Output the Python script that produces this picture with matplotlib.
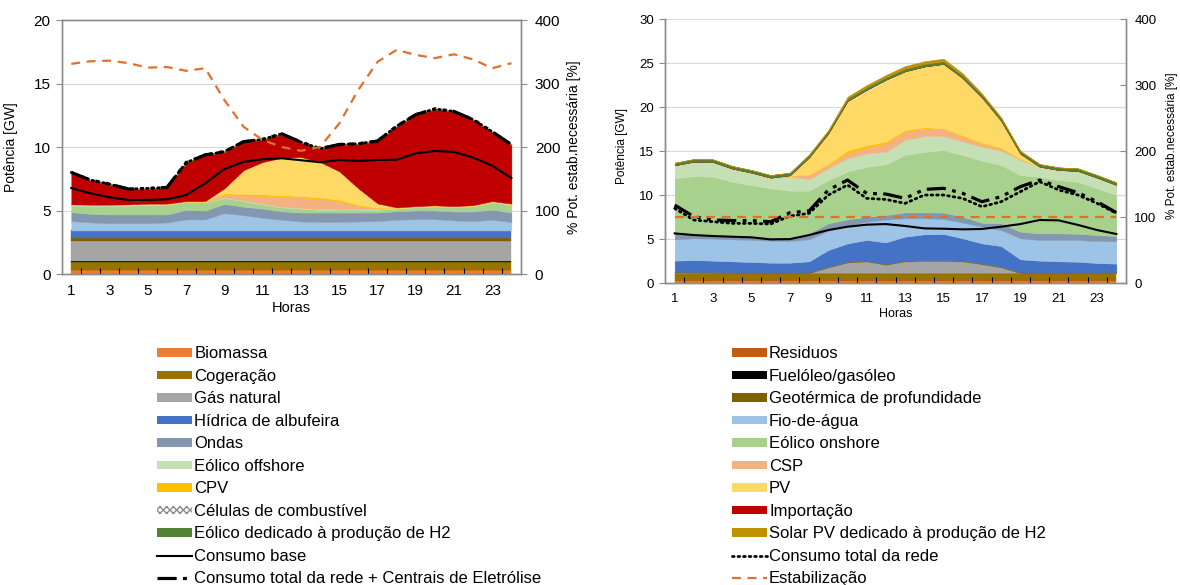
import numpy as np
import matplotlib.pyplot as plt
from matplotlib.patches import Patch
from matplotlib.lines import Line2D

plt.rcParams['font.family'] = ['Liberation Sans', 'DejaVu Sans']

# ---------------------------------
# 1. Data (GW per hour)
# ---------------------------------
hours = np.arange(1, 25)
hour_ticks = [1, 3, 5, 7, 9, 11, 13, 15, 17, 19, 21, 23]

series_names = ["Biomassa", "Residuos", "Cogeração", "Fuelóleo/gasóleo", "Gás natural",
                "Geotérmica de profundidade", "Hídrica de albufeira", "Fio-de-água", "Ondas",
                "Eólico onshore", "Eólico offshore", "CSP", "CPV", "PV", "Células de combustível",
                "Importação", "Eólico dedicado à produção de H2", "Solar PV dedicado à produção de H2"]
series_colors = ["#ED7D31", "#C55A11", "#997300", "#000000", "#A5A5A5",
                 "#7F6000", "#4472C4", "#9DC3E6", "#8497B0",
                 "#A9D18E", "#C5E0B4", "#F4B183", "#FFC000", "#FFD966", "#FFFFFF",
                 "#C00000", "#548235", "#BF9000"]

# left chart
L_biomassa = [0.3] * 24
L_residuos = [0.05] * 24
L_cogeracao = [0.6] * 24
L_fuel = [0.08] * 24
L_gas = [1.55] * 24
L_geotermica = [0.25] * 24
L_hidrica = [0.6] * 24
L_fio = [0.74, 0.63, 0.57, 0.57, 0.57, 0.63, 0.87, 0.87, 1.36, 1.2, 1.0, 0.84,
         0.71, 0.67, 0.67, 0.71, 0.74, 0.84, 0.89, 0.89, 0.79, 0.74, 0.84, 0.67]
L_ondas = [0.7, 0.68, 0.69, 0.69, 0.69, 0.63, 0.75, 0.7, 0.73, 0.67, 0.72, 0.67,
           0.7, 0.74, 0.74, 0.7, 0.67, 0.67, 0.68, 0.68, 0.7, 0.75, 0.8, 0.74]
L_onshore = [0.52, 0.63, 0.68, 0.7, 0.76, 0.76, 0.6, 0.63, 0.47, 0.43, 0.32, 0.31,
             0.31, 0.21, 0.23, 0.23, 0.21, 0.21, 0.25, 0.32, 0.33, 0.41, 0.58, 0.61]
L_offshore = [0.05] * 24
L_csp = [0, 0, 0, 0, 0, 0, 0, 0.02, 0.21, 0.39, 0.63, 0.79,
         0.82, 0.81, 0.61, 0.24, 0.08, 0, 0, 0, 0, 0, 0, 0]
L_cpv = [0, 0, 0, 0, 0, 0, 0, 0, 0.1, 0.13, 0.12, 0.12,
         0.12, 0.12, 0.12, 0.1, 0.05, 0, 0, 0, 0, 0, 0, 0]
L_pv = [0, 0, 0, 0, 0, 0, 0, 0, 0.35, 1.83, 2.5, 2.9,
        3.03, 2.74, 2.2, 1.24, 0.29, 0, 0, 0, 0, 0, 0, 0]
L_celulas = [0.04] * 24
L_importacao = [2.48, 1.9, 1.58, 1.17, 1.16, 1.24, 2.99, 3.62, 2.86, 2.21, 1.75, 1.85,
                1.14, 1.02, 2.07, 3.48, 4.87, 6.36, 7.17, 7.55, 7.42, 6.7, 5.42, 4.62]
L_eolico_h2 = [0.04] * 24
L_solar_h2 = [0] * 24

L_consumo_base = [6.77, 6.35, 6.04, 5.83, 5.83, 5.89, 6.22, 7.14, 8.26, 8.83, 9.04, 9.11,
                  8.96, 8.8, 8.98, 8.9, 8.98, 9.0, 9.5, 9.69, 9.61, 9.17, 8.52, 7.55]
L_consumo_total = [8.0, 7.4, 7.08, 6.69, 6.74, 6.82, 8.77, 9.38, 9.64, 10.42, 10.6, 11.04,
                   10.39, 9.87, 10.2, 10.26, 10.47, 11.64, 12.55, 13.0, 12.8, 12.16, 11.2, 10.2]
L_consumo_eletrolise = [8.0, 7.4, 7.08, 6.69, 6.74, 6.82, 8.77, 9.38, 9.64, 10.42, 10.6, 11.04,
                        10.39, 9.87, 10.2, 10.26, 10.47, 11.64, 12.55, 13.0, 12.8, 12.16, 11.2, 10.2]
L_estab = [331, 335, 336, 332, 325, 326, 320, 324, 274, 232, 211, 200,
           194, 200, 237, 290, 334, 353, 345, 340, 346, 338, 324, 332]

# right chart
R_biomassa = [0.2] * 24
R_residuos = [0.12] * 24
R_cogeracao = [0.82] * 24
R_fuel = [0] * 24
R_gas = [0.05, 0.04, 0.02, 0, 0, 0, 0, 0, 0.64, 1.2, 1.32, 0.94,
         1.32, 1.38, 1.38, 1.32, 1.01, 0.64, 0, 0, 0, 0, 0, 0]
R_geotermica = [0.08] * 24
R_hidrica = [1.27, 1.34, 1.3, 1.24, 1.17, 1.09, 1.09, 1.24, 1.89, 2.08, 2.35, 2.46,
             2.73, 2.93, 2.97, 2.54, 2.27, 2.34, 1.47, 1.32, 1.24, 1.2, 1.05, 0.98]
R_fio = [2.42, 2.48, 2.5, 2.5, 2.5, 2.5, 2.46, 2.5, 2.2, 2.0, 2.08, 2.58,
         2.08, 1.82, 1.7, 1.78, 1.9, 1.82, 2.39, 2.35, 2.43, 2.47, 2.5, 2.53]
R_ondas = [0.76, 0.52, 0.41, 0.39, 0.38, 0.38, 0.42, 0.68, 0.83, 0.73, 0.57, 0.53,
           0.68, 0.68, 0.73, 0.68, 0.45, 0.76, 0.75, 0.75, 0.75, 0.71, 0.68, 0.61]
R_onshore = [6.18, 6.56, 6.63, 6.15, 5.87, 5.57, 5.3, 4.85, 4.92, 5.42, 5.66, 5.77,
             6.52, 6.87, 7.1, 7.01, 7.05, 6.62, 6.44, 6.44, 6.06, 5.9, 5.31, 4.66]
R_offshore = [1.47, 1.63, 1.67, 1.5, 1.4, 1.21, 1.59, 1.29, 1.33, 1.52, 1.53, 1.42,
              1.7, 1.8, 1.6, 1.51, 1.59, 1.64, 1.71, 1.14, 1.14, 1.23, 1.21, 1.14]
R_csp = [0, 0, 0, 0, 0, 0, 0.1, 0.49, 0.37, 0.56, 0.69, 0.95,
         0.95, 0.88, 0.77, 0.57, 0.31, 0.26, 0.1, 0, 0, 0, 0, 0]
R_cpv = [0, 0, 0, 0, 0, 0, 0, 0.05, 0.12, 0.31, 0.26, 0.19,
         0.19, 0.12, 0.11, 0.15, 0.15, 0.08, 0.03, 0, 0, 0, 0, 0]
R_pv = [0, 0, 0, 0, 0, 0, 0.06, 1.95, 3.48, 5.53, 6.12, 6.88,
        6.67, 6.9, 7.32, 6.42, 5.05, 3.05, 0.58, 0, 0, 0, 0, 0]
R_celulas = [0, 0, 0, 0, 0, 0, 0, 0, 0, 0.1, 0.15, 0.15,
             0, 0, 0, 0.08, 0.1, 0, 0, 0, 0, 0, 0, 0]
R_importacao = [0] * 24
R_eolico_h2 = [0.3] * 24
R_solar_h2 = [0, 0, 0, 0, 0, 0, 0, 0.05, 0.1, 0.2, 0.25, 0.25,
              0.3, 0.3, 0.3, 0.25, 0.15, 0.1, 0.05, 0, 0, 0, 0, 0]

R_consumo_base = [5.64, 5.45, 5.34, 5.26, 5.19, 4.96, 4.99, 5.45, 6.02, 6.4, 6.63, 6.7,
                  6.48, 6.21, 6.17, 6.1, 6.14, 6.4, 6.7, 7.16, 7.12, 6.6, 6.02, 5.57]
R_consumo_total = [8.48, 7.16, 6.97, 6.78, 6.78, 6.7, 7.61, 7.92, 10.0, 11.14, 9.62, 9.5,
                   9.05, 10.0, 10.0, 9.62, 8.67, 9.24, 10.38, 11.52, 10.57, 10.0, 9.05, 7.92]
R_consumo_eletrolise = [8.86, 7.54, 7.16, 7.1, 7.1, 6.97, 7.99, 8.2, 10.57, 11.7, 10.19, 10.11,
                        9.62, 10.64, 10.76, 10.19, 9.24, 9.81, 10.95, 11.7, 10.95, 10.27, 9.24, 8.0]
R_estab = [100] * 24

left_layers = [L_biomassa, L_residuos, L_cogeracao, L_fuel, L_gas, L_geotermica, L_hidrica,
               L_fio, L_ondas, L_onshore, L_offshore, L_csp, L_cpv, L_pv, L_celulas,
               L_importacao, L_eolico_h2, L_solar_h2]
right_layers = [R_biomassa, R_residuos, R_cogeracao, R_fuel, R_gas, R_geotermica, R_hidrica,
                R_fio, R_ondas, R_onshore, R_offshore, R_csp, R_cpv, R_pv, R_celulas,
                R_importacao, R_eolico_h2, R_solar_h2]

estab_color = "#E2702A"
spine_color = "#8C8C8C"
grid_color = "#D9D9D9"
eletrolise_dash = (6, 2, 1.2, 2, 1.2, 2)


# ---------------------------------
# 2. One panel
# ---------------------------------
def draw_panel(ax, layers, base, total, eletro, estab, ymax, ystep, fs, top_spine, right_tick_dir):
    bottom = np.zeros(len(hours))
    for name, vals, col in zip(series_names, layers, series_colors):
        top = bottom + np.array(vals, dtype=float)
        if name == "Células de combustível":
            ax.fill_between(hours, bottom, top, facecolor="white", edgecolor="#7F7F7F",
                            hatch="xxxx", lw=0, zorder=1)
        else:
            ax.fill_between(hours, bottom, top, facecolor=col, edgecolor=col, lw=0.3, zorder=1)
        bottom = top

    for y in np.arange(ystep, ymax + 0.1, ystep):
        ax.axhline(y, color=grid_color, lw=0.8, zorder=0)

    ax.plot(hours, base, color="black", lw=1.5, zorder=3)
    ax.plot(hours, total, color="black", lw=2, linestyle=(0, (0.6, 1.4)),
            dash_capstyle="round", zorder=3)
    ax.plot(hours, eletro, color="black", lw=2.3, linestyle=(0, eletrolise_dash), zorder=3)

    ax.set_xlim(0.5, 24.5)
    ax.set_ylim(0, ymax)
    ax.set_xticks(hour_ticks)
    ax.set_xticks(np.arange(1.5, 24, 1), minor=True)
    ax.set_yticks(np.arange(0, ymax + 0.1, ystep))
    ax.tick_params(axis="x", which="major", length=0, labelsize=fs, pad=7)
    ax.tick_params(axis="x", which="minor", direction="in", length=4, color="black", width=0.8)
    ax.tick_params(axis="y", length=4, color=spine_color, labelsize=fs, pad=4)
    ax.set_xlabel("Horas", fontsize=fs - 0.5, labelpad=2)
    ax.set_ylabel("Potência [GW]", fontsize=fs - 1)

    ax2 = ax.twinx()
    ax2.plot(hours, estab, color=estab_color, lw=1.6, linestyle=(0, (4, 3)))
    ax2.set_ylim(0, 400)
    ax2.set_yticks([0, 100, 200, 300, 400])
    ax2.tick_params(axis="y", length=4, direction=right_tick_dir, color=spine_color,
                    labelsize=fs, pad=6)
    ax2.set_ylabel("% Pot. estab.necessária [%]", fontsize=fs - 1)

    for a in (ax, ax2):
        for s in a.spines.values():
            s.set_color(spine_color)
            s.set_linewidth(1)
        a.spines["top"].set_visible(top_spine)
    return ax2


# ---------------------------------
# 3. Figure
# ---------------------------------
fig = plt.figure(figsize=(11.8, 5.85), dpi=100)

axL = fig.add_axes([0.0523, 0.5316, 0.3892, 0.4342])
axL2 = draw_panel(axL, left_layers, L_consumo_base, L_consumo_total, L_consumo_eletrolise,
                  L_estab, 20, 5, 11, True, "out")
axL.yaxis.set_label_coords(-0.095, 0.5)
axL2.yaxis.set_label_coords(1.10, 0.5)

axR = fig.add_axes([0.5636, 0.5162, 0.3906, 0.4513])
axR2 = draw_panel(axR, right_layers, R_consumo_base, R_consumo_total, R_consumo_eletrolise,
                  R_estab, 30, 5, 9.5, False, "in")
axR.yaxis.set_label_coords(-0.081, 0.52)
axR2.yaxis.set_label_coords(1.086, 0.52)

# ---------------------------------
# 4. Legend (two columns)
# ---------------------------------
def patch_for(i):
    if series_names[i] == "Células de combustível":
        return Patch(facecolor="white", edgecolor="#8C8C8C", hatch="xxxxx", lw=0)
    return Patch(facecolor=series_colors[i], edgecolor="none")


left_handles = [patch_for(i) for i in range(0, 18, 2)]
left_labels = [series_names[i] for i in range(0, 18, 2)]
left_handles += [Line2D([], [], color="black", lw=1.5),
                 Line2D([], [], color="black", lw=2.3, linestyle=(0, eletrolise_dash))]
left_labels += ["Consumo base", "Consumo total da rede + Centrais de Eletrólise"]

right_handles = [patch_for(i) for i in range(1, 18, 2)]
right_labels = [series_names[i] for i in range(1, 18, 2)]
right_handles += [Line2D([], [], color="black", lw=2, linestyle=(0, (0.6, 1.4)),
                         dash_capstyle="round"),
                  Line2D([], [], color=estab_color, lw=1.6, linestyle=(0, (4, 3)))]
right_labels += ["Consumo total da rede", "Estabilização"]

leg_kw = dict(frameon=False, fontsize=12, handlelength=2.1, handleheight=0.42,
              handletextpad=0.15, labelspacing=0.45, borderpad=0, borderaxespad=0,
              loc="upper left")
fig.legend(left_handles, left_labels, bbox_to_anchor=(0.133, 0.408), **leg_kw)
fig.legend(right_handles, right_labels, bbox_to_anchor=(0.620, 0.408), **leg_kw)

plt.savefig("out.png", dpi=100)
